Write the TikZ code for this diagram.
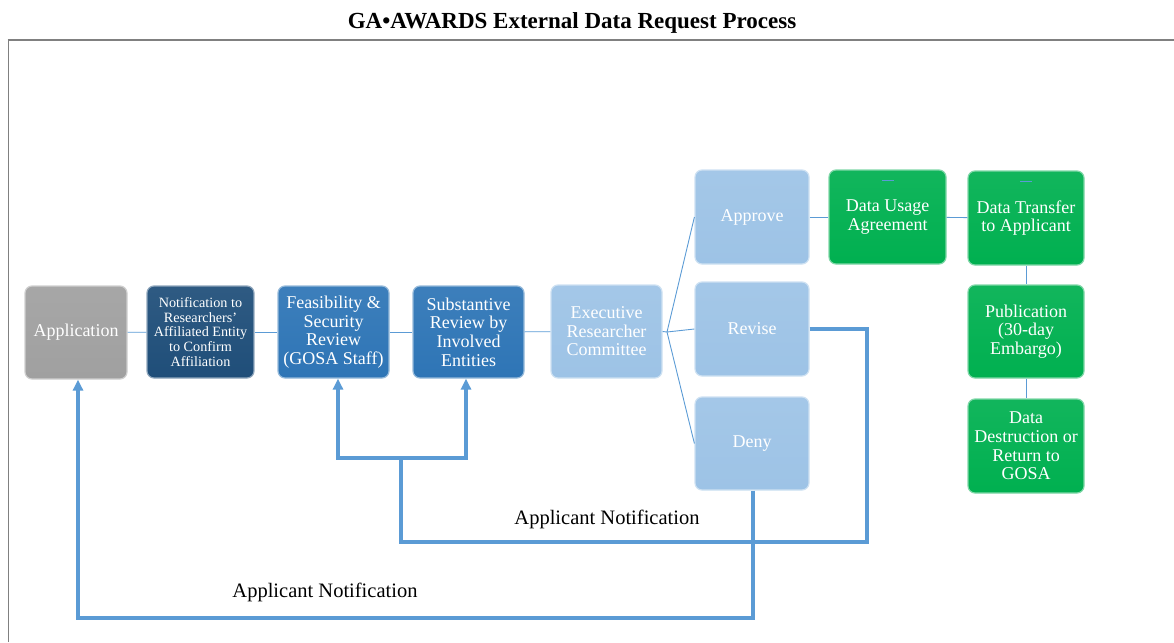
\documentclass[tikz,border=0pt]{standalone}
\usepackage{fontspec}
\setmainfont{Liberation Serif}
\usetikzlibrary{arrows.meta}
\definecolor{grayBox}{HTML}{A0A0A0}
\definecolor{navyBox}{HTML}{1F4E79}
\definecolor{blueBox}{HTML}{2E75B6}
\definecolor{paleBox}{HTML}{9DC3E6}
\definecolor{greenBox}{HTML}{00B050}
\definecolor{linkBlue}{HTML}{5B9BD5}
\tikzset{
  box/.style={rounded corners=7pt, align=center, text=white, inner sep=2pt,
    top color=#1!93!white, bottom color=#1, draw=#1!50!white, line width=1.2pt,
    font=\fontsize{18}{18.6}\selectfont},
  link/.style={linkBlue, line width=0.9pt},
  fback/.style={linkBlue, line width=3.2pt},
  note/.style={font=\fontsize{20.5}{22}\selectfont}
}
\begin{document}
\begin{tikzpicture}[x=1pt, y=-1pt, >={Triangle[width=10pt,length=11pt]}]
  \useasboundingbox (0,0) rectangle (1174,642);
  % title and frame
  \node[anchor=base, font=\fontsize{23}{25}\selectfont\bfseries] (title) at (572,29) {GA•AWARDS External Data Request Process};
  \draw[gray, line width=0.8pt] (8,642) -- (8,40);
  \draw[gray, line width=2pt] (7.6,40) -- (1174,40);

  % main row
  \node[box=grayBox, minimum width=102pt, minimum height=93pt] (app) at (76,332.5) {Application};
  \node[box=navyBox, minimum width=107pt, minimum height=92pt, font=\fontsize{14.2}{14.6}\selectfont] (notif) at (200.5,332) {Notification to\\Researchers’\\Affiliated Entity\\to Confirm\\Affiliation};
  \node[box=blueBox, minimum width=111pt, minimum height=92pt] (feas) at (333.5,332) {Feasibility \&\\Security\\Review\\(GOSA Staff)};
  \node[box=blueBox, minimum width=111pt, minimum height=92pt] (subst) at (468.5,332) {Substantive\\Review by\\Involved\\Entities};
  \node[box=paleBox, minimum width=111pt, minimum height=93pt] (exec) at (606.5,331.5) {Executive\\Researcher\\Committee};

  % decisions
  \node[box=paleBox, minimum width=114pt, minimum height=94pt] (approve) at (752,217) {Approve};
  \node[box=paleBox, minimum width=114pt, minimum height=94pt] (revise) at (752,329) {Revise};
  \node[box=paleBox, minimum width=114pt, minimum height=93pt] (deny) at (752,443.5) {Deny};

  % approved path
  \node[box=greenBox, minimum width=117pt, minimum height=94pt] (usage) at (887.5,217) {Data Usage\\Agreement};
  \node[box=greenBox, minimum width=116pt, minimum height=94pt] (transfer) at (1026,218) {Data Transfer\\to Applicant};
  \node[box=greenBox, minimum width=116pt, minimum height=93pt] (pub) at (1026,331.5) {Publication\\(30-day\\Embargo)};
  \node[box=greenBox, minimum width=116pt, minimum height=94pt] (destroy) at (1026,446) {Data\\Destruction or\\Return to\\GOSA};
  \draw[linkBlue, line width=1pt] ([xshift=-6pt,yshift=-11pt]usage.north) -- ++(12,0);
  \draw[linkBlue, line width=1pt] ([xshift=-6pt,yshift=-11pt]transfer.north) -- ++(12,0);

  % thin connectors
  \coordinate (fan) at (667,332);
  \draw[link] (app) -- (notif);
  \draw[link] (notif) -- (feas);
  \draw[link] (feas) -- (subst);
  \draw[link] (subst) -- (exec);
  \draw[link] (exec.east) -- (fan);
  \draw[link] (fan) -- (approve.west);
  \draw[link] (fan) -- (revise.west);
  \draw[link] (fan) -- (deny.west);
  \draw[link] (approve) -- (usage);
  \draw[link] (usage) -- (transfer);
  \draw[link] (transfer) -- (pub);
  \draw[link] (pub) -- (destroy);

  % feedback after revise
  \coordinate (revCorner) at (867,542);
  \coordinate (revJoin) at (401,458);
  \draw[fback] (revise.east) -| (revCorner) -- (revCorner -| revJoin) -- (revJoin);
  \draw[fback, ->] (revJoin) -| ([xshift=4.5pt]feas.south);
  \draw[fback, ->] (revJoin) -| ([xshift=-2.5pt]subst.south);
  \node[note] (note1) at (607,519) {Applicant Notification};

  % feedback after deny
  \coordinate (denyCorner) at (753,618);
  \draw[fback, ->] (deny.south -| denyCorner) -- (denyCorner) -| ([xshift=2pt]app.south);
  \node[note] (note2) at (325,592) {Applicant Notification};
\end{tikzpicture}
\end{document}
